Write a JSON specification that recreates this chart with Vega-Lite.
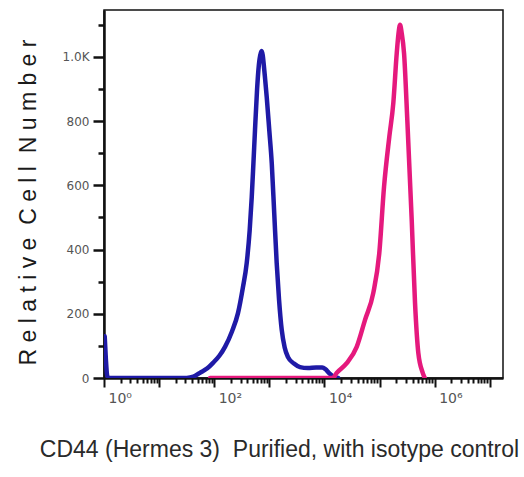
{
  "$schema": "https://vega.github.io/schema/vega-lite/v6.json",
  "width": 399,
  "height": 368,
  "autosize": {"type": "none"},
  "padding": {"left": 104, "top": 10, "right": 21, "bottom": 99},
  "background": "white",
  "config": {
    "view": {"stroke": "#111", "strokeWidth": 1.5},
    "axis": {"grid": false}
  },
  "data": {
    "values": [
      {"series": "Isotype control", "x": 1.03, "count": 130},
      {"series": "Isotype control", "x": 1.08, "count": 60},
      {"series": "Isotype control", "x": 1.14, "count": 8},
      {"series": "Isotype control", "x": 1.2, "count": 0},
      {"series": "Isotype control", "x": 10, "count": 0},
      {"series": "Isotype control", "x": 31.6, "count": 0},
      {"series": "Isotype control", "x": 42, "count": 4},
      {"series": "Isotype control", "x": 55, "count": 16},
      {"series": "Isotype control", "x": 75, "count": 30},
      {"series": "Isotype control", "x": 95, "count": 47},
      {"series": "Isotype control", "x": 125, "count": 70},
      {"series": "Isotype control", "x": 157, "count": 97},
      {"series": "Isotype control", "x": 210, "count": 145},
      {"series": "Isotype control", "x": 270, "count": 202},
      {"series": "Isotype control", "x": 330, "count": 280},
      {"series": "Isotype control", "x": 389, "count": 358},
      {"series": "Isotype control", "x": 440, "count": 460},
      {"series": "Isotype control", "x": 480, "count": 564},
      {"series": "Isotype control", "x": 515, "count": 670},
      {"series": "Isotype control", "x": 550, "count": 773},
      {"series": "Isotype control", "x": 600, "count": 900},
      {"series": "Isotype control", "x": 646, "count": 975},
      {"series": "Isotype control", "x": 700, "count": 1012},
      {"series": "Isotype control", "x": 728, "count": 1018},
      {"series": "Isotype control", "x": 760, "count": 1005},
      {"series": "Isotype control", "x": 794, "count": 975},
      {"series": "Isotype control", "x": 840, "count": 930},
      {"series": "Isotype control", "x": 897, "count": 875},
      {"series": "Isotype control", "x": 1000, "count": 770},
      {"series": "Isotype control", "x": 1107, "count": 669},
      {"series": "Isotype control", "x": 1230, "count": 510},
      {"series": "Isotype control", "x": 1361, "count": 358},
      {"series": "Isotype control", "x": 1500, "count": 245},
      {"series": "Isotype control", "x": 1679, "count": 150},
      {"series": "Isotype control", "x": 1900, "count": 95},
      {"series": "Isotype control", "x": 2183, "count": 65},
      {"series": "Isotype control", "x": 2800, "count": 45},
      {"series": "Isotype control", "x": 3606, "count": 34},
      {"series": "Isotype control", "x": 5012, "count": 31},
      {"series": "Isotype control", "x": 7079, "count": 33},
      {"series": "Isotype control", "x": 9120, "count": 33},
      {"series": "Isotype control", "x": 10471, "count": 27},
      {"series": "Isotype control", "x": 12023, "count": 16},
      {"series": "Isotype control", "x": 14125, "count": 6},
      {"series": "Isotype control", "x": 17783, "count": 0},
      {"series": "CD44", "x": 84, "count": 0},
      {"series": "CD44", "x": 14125, "count": 0},
      {"series": "CD44", "x": 16711, "count": 16},
      {"series": "CD44", "x": 25410, "count": 46},
      {"series": "CD44", "x": 38548, "count": 97},
      {"series": "CD44", "x": 54575, "count": 181},
      {"series": "CD44", "x": 77090, "count": 265},
      {"series": "CD44", "x": 99083, "count": 390},
      {"series": "CD44", "x": 120781, "count": 596},
      {"series": "CD44", "x": 150661, "count": 752},
      {"series": "CD44", "x": 177828, "count": 856},
      {"series": "CD44", "x": 205116, "count": 1011},
      {"series": "CD44", "x": 220000, "count": 1070},
      {"series": "CD44", "x": 235505, "count": 1100},
      {"series": "CD44", "x": 252000, "count": 1075},
      {"series": "CD44", "x": 278612, "count": 1011},
      {"series": "CD44", "x": 319154, "count": 804},
      {"series": "CD44", "x": 383707, "count": 492},
      {"series": "CD44", "x": 440555, "count": 234},
      {"series": "CD44", "x": 505825, "count": 78},
      {"series": "CD44", "x": 608135, "count": 16},
      {"series": "CD44", "x": 660693, "count": 0}
    ]
  },
  "mark": {"type": "line", "strokeWidth": 4.5, "strokeJoin": "round", "strokeCap": "round", "interpolate": "monotone", "clip": true},
  "encoding": {
    "x": {
      "field": "x",
      "type": "quantitative",
      "scale": {"type": "log", "domain": [1, 17400000], "nice": false},
      "axis": {
        "title": "CD44 (Hermes 3)\u00a0\u00a0Purified, with isotype control",
        "titleFont": "Liberation Sans",
        "titleFontSize": 23,
        "titleFontWeight": "normal",
        "titleColor": "#2a2a2a",
        "titleX": 175,
        "titleY": 78,
        "titleAlign": "center",
        "titleBaseline": "alphabetic",
        "values": [1, 2, 3, 4, 5, 6, 7, 8, 9, 10, 20, 30, 40, 50, 60, 70, 80, 90, 100, 200, 300, 400, 500, 600, 700, 800, 900, 1000, 2000, 3000, 4000, 5000, 6000, 7000, 8000, 9000, 10000, 20000, 30000, 40000, 50000, 60000, 70000, 80000, 90000, 100000, 200000, 300000, 400000, 500000, 600000, 700000, 800000, 900000, 1000000, 2000000, 3000000, 4000000, 5000000, 6000000, 7000000, 8000000, 9000000, 10000000],
        "labelExpr": "datum.value == 1 ? '10⁰' : datum.value == 100 ? '10²' : datum.value == 10000 ? '10⁴' : datum.value == 1000000 ? '10⁶' : ''",
        "labelOverlap": false,
        "labelFlush": false,
        "labelAlign": "left",
        "labelOffset": 4,
        "labelPadding": 4,
        "labelFont": "DejaVu Sans",
        "labelFontSize": 14,
        "labelColor": "#555",
        "tickColor": "#111",
        "tickWidth": 2,
        "tickSize": {"condition": {"test": "abs(log(datum.value)/LN10 - round(log(datum.value)/LN10)) < 0.001", "value": 9}, "value": 5},
        "domainColor": "#111",
        "domainWidth": 2.5
      }
    },
    "y": {
      "field": "count",
      "type": "quantitative",
      "scale": {"domain": [0, 1146], "nice": false},
      "axis": {
        "title": "R e l a t i v e\u00a0 C e l l\u00a0 N u m b e r",
        "titleFont": "Liberation Sans",
        "titleFontSize": 23,
        "titleFontWeight": "normal",
        "titleColor": "#1a1a1a",
        "titleX": -69,
        "titleY": 192,
        "titleAngle": -90,
        "titleAlign": "center",
        "titleBaseline": "alphabetic",
        "values": [0, 100, 200, 300, 400, 500, 600, 700, 800, 900, 1000, 1100],
        "labelExpr": "datum.value % 200 != 0 ? '' : datum.value == 1000 ? '1.0K' : datum.label",
        "labelOverlap": false,
        "labelFlush": false,
        "labelPadding": 4,
        "labelFont": "DejaVu Sans",
        "labelFontSize": 12,
        "labelColor": "#555",
        "tickColor": "#111",
        "tickWidth": 2.5,
        "tickSize": {"condition": {"test": "datum.value % 200 == 0", "value": 11}, "value": 6},
        "domainColor": "#111",
        "domainWidth": 2.5
      }
    },
    "color": {
      "field": "series",
      "type": "nominal",
      "scale": {"domain": ["Isotype control", "CD44"], "range": ["#1f1aa6", "#e5197d"]},
      "legend": null
    },
    "order": {"field": "x", "type": "quantitative"}
  }
}
